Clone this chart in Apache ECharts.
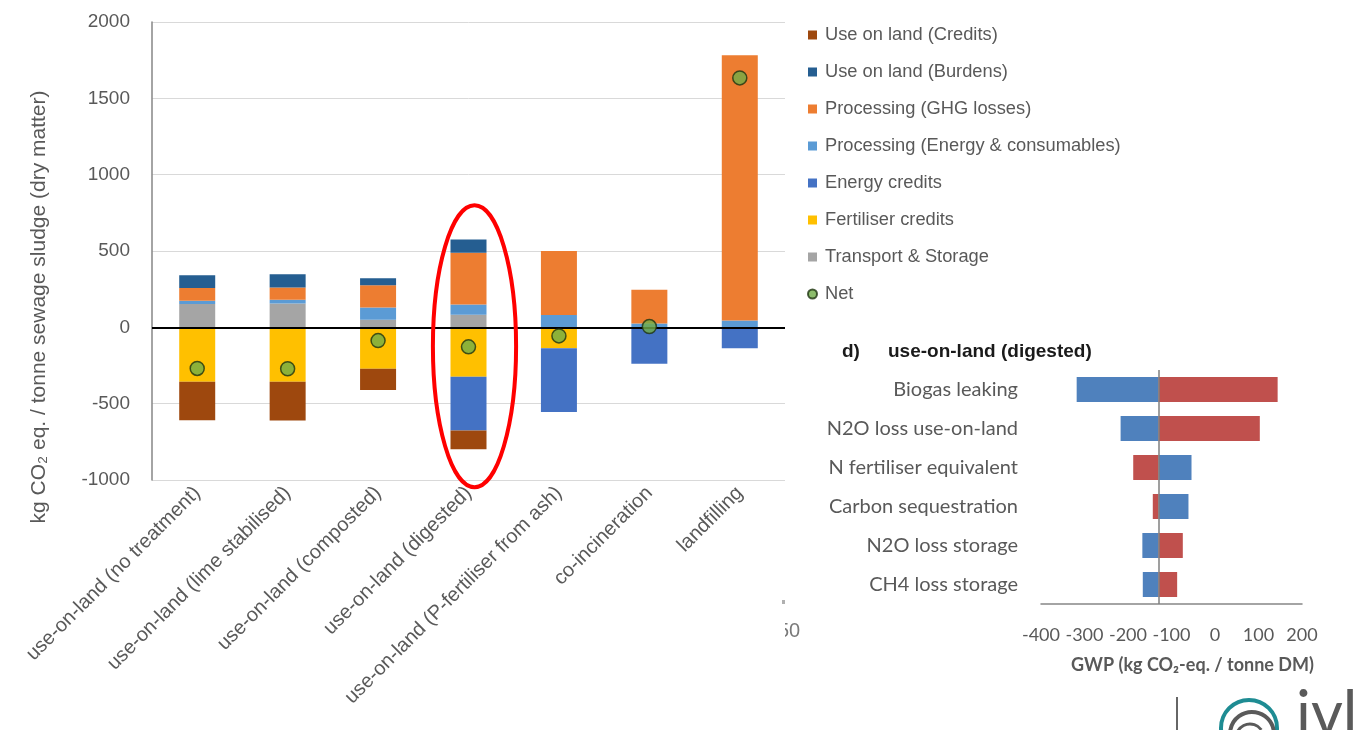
<!DOCTYPE html>
<html>
<head>
<meta charset="utf-8">
<script src="https://cdn.jsdelivr.net/npm/echarts@6/dist/echarts.min.js"></script>
<style>
html,body{margin:0;padding:0;background:#fff;}
#c{width:1369px;height:730px;}
</style>
</head>
<body>
<div id="c"></div>
<script>
// ---- main stacked chart data ----
const categories = ['use-on-land (no treatment)','use-on-land (lime stabilised)','use-on-land (composted)','use-on-land (digested)','use-on-land (P-fertiliser from ash)','co-incineration','landfilling'];
const transportStorage = [153, 156, 50, 82, 0, 0, 0];
const fertiliserCredits = [-356, -356, -271, -323, -137, 0, 0];
const processingEnergy = [21, 25, 80, 67, 81, 25, 44];
const energyCredits = [0, 0, 0, -352, -417, -239, -137];
const processingGHG = [83, 80, 146, 340, 419, 221, 1738];
const useOnLandBurdens = [84, 87, 46, 87, 0, 0, 0];
const useOnLandCredits = [-252, -254, -140, -124, 0, 0, 0];
const netValues = [-269, -271, -87, -128, -56, 5, 1634];
const legendOrder = ['Use on land (Credits)','Use on land (Burdens)','Processing (GHG losses)','Processing (Energy & consumables)','Energy credits','Fertiliser credits','Transport & Storage','Net'];

// ---- tornado (d) data ----
const tornadoCats = ['Biogas leaking','N2O loss use-on-land','N fertiliser equivalent','Carbon sequestration','N2O loss storage','CH4 loss storage'];
const tornadoBlue = [-318, -217, -54, -61, -167, -166];
const tornadoRed = [144, 103, -188, -143, -74, -87];
const tornadoBase = -130;

const chart = echarts.init(document.getElementById('c'));
const grayTxt = '#595959';
const arial = 'Liberation Sans, Arial, sans-serif';
const cal = 'Lato, Open Sans, sans-serif';

function barSeries(name, data, color){
  return {name, type:'bar', stack:'s', data, barWidth:36, xAxisIndex:0, yAxisIndex:0,
    itemStyle:{color}, emphasis:{disabled:true}};
}
function tornadoRender(params, api){
  const cat = api.value(0), v = api.value(1);
  const p0 = api.coord([tornadoBase, cat]);
  const p1 = api.coord([v, cat]);
  const h = api.size([0,1])[1]*0.64;
  return {type:'rect', shape:{x:Math.min(p0[0],p1[0]), y:p0[1]-h/2, width:Math.abs(p1[0]-p0[0]), height:h}, style:api.style()};
}

const series = [
  Object.assign(barSeries('Transport & Storage', transportStorage, '#A5A5A5'), {
    markLine:{silent:true, symbol:'none', label:{show:false}, lineStyle:{color:'#000', width:2, type:'solid'}, data:[{yAxis:0}]}
  }),
  barSeries('Fertiliser credits', fertiliserCredits, '#FFC000'),
  barSeries('Processing (Energy & consumables)', processingEnergy, '#5B9BD5'),
  barSeries('Energy credits', energyCredits, '#4472C4'),
  barSeries('Processing (GHG losses)', processingGHG, '#ED7D31'),
  barSeries('Use on land (Burdens)', useOnLandBurdens, '#255E91'),
  barSeries('Use on land (Credits)', useOnLandCredits, '#9E480E'),
  {name:'Net', type:'scatter', data:netValues, symbol:'circle', symbolSize:14, xAxisIndex:0, yAxisIndex:0, z:5,
    itemStyle:{color:'#70AD47', borderColor:'#1E3310', borderWidth:1.5}},
  {type:'custom', xAxisIndex:1, yAxisIndex:1, renderItem:tornadoRender, encode:{x:1,y:0},
    data:tornadoBlue.map((v,i)=>[i,v]), itemStyle:{color:'#4F81BD'},
    markLine:{silent:true, symbol:'none', label:{show:false}, lineStyle:{color:'#7F7F7F', width:1.5, type:'solid'}, data:[{xAxis:tornadoBase}]}},
  {type:'custom', xAxisIndex:1, yAxisIndex:1, renderItem:tornadoRender, encode:{x:1,y:0},
    data:tornadoRed.map((v,i)=>[i,v]), itemStyle:{color:'#C0504D'}}
];

const option = {
  animation:false,
  backgroundColor:'#fff',
  title:[
    {text:'d)', left:837, top:337, textStyle:{fontFamily:arial, fontWeight:'bold', fontSize:19, color:'#1a1a1a'}},
    {text:'use-on-land (digested)', left:883, top:337, textStyle:{fontFamily:arial, fontWeight:'bold', fontSize:19, color:'#1a1a1a'}}
  ],
  legend:{
    orient:'vertical', left:807, top:26, padding:0,
    itemWidth:9, itemHeight:9, itemGap:19,
    data:legendOrder.map(n=> n==='Net' ? {name:n, icon:'circle'} : {name:n, icon:'rect'}),
    textStyle:{fontFamily:arial, fontSize:18.3, lineHeight:18, color:grayTxt, padding:[0,0,0,3]}
  },
  grid:[
    {left:152, right:584, top:22, bottom:250},
    {left:1041, right:67, top:370, height:234}
  ],
  xAxis:[
    {type:'category', gridIndex:0, data:categories,
      axisLine:{show:false, onZero:false}, axisTick:{show:false},
      axisLabel:{rotate:45, interval:0, fontFamily:arial, fontSize:20, color:grayTxt, margin:10}},
    {type:'value', gridIndex:1, min:-400, max:200, interval:100,
      axisLine:{show:true, onZero:false, lineStyle:{color:'#868686', width:1.5}}, axisTick:{show:false},
      splitLine:{show:false},
      axisLabel:{fontFamily:cal, fontSize:18, color:grayTxt, margin:22},
      name:'GWP (kg CO₂-eq. / tonne DM)', nameLocation:'middle', nameGap:52,
      nameTextStyle:{fontFamily:cal, fontWeight:'bold', fontSize:18, color:grayTxt, padding:[0,0,0,42]}}
  ],
  yAxis:[
    {type:'value', gridIndex:0, min:-1000, max:2000, interval:500,
      axisLine:{show:true, lineStyle:{color:'#868686', width:1.5}}, axisTick:{show:false},
      splitLine:{lineStyle:{color:'#D9D9D9', width:1}},
      axisLabel:{fontFamily:arial, fontSize:19, color:grayTxt, margin:22, formatter:v=>String(v)},
      name:'kg CO₂ eq. / tonne sewage sludge (dry matter)', nameLocation:'middle', nameGap:102,
      nameTextStyle:{fontFamily:arial, fontSize:21, color:grayTxt, padding:[0,112,0,0]}},
    {type:'category', gridIndex:1, data:tornadoCats, inverse:true,
      axisLine:{show:false}, axisTick:{show:false}, splitLine:{show:false},
      axisLabel:{fontFamily:cal, fontSize:20, color:grayTxt, margin:23}}
  ],
  series
};
chart.setOption(option);

// annotation ellipse around the "digested" column, positioned through the axes
const cx = chart.convertToPixel({xAxisIndex:0}, categories[3]);
const yTop = chart.convertToPixel({yAxisIndex:0}, 799);
const yBot = chart.convertToPixel({yAxisIndex:0}, -1048);
const band = chart.convertToPixel({xAxisIndex:0}, categories[4]) - cx;
chart.setOption({
  graphic:[
    {type:'ellipse', shape:{cx:cx+6, cy:(yTop+yBot)/2, rx:band*0.46, ry:(yBot-yTop)/2}, style:{fill:'none', stroke:'#FF0000', lineWidth:4}, z:100},
    {type:'text', left:778, top:621, style:{text:'50', font:'20px Liberation Sans', fill:'#7a7a7a'}, z:50},
    {type:'rect', shape:{x:760, y:618, width:25, height:30}, style:{fill:'#fff'}, z:51},
    {type:'rect', shape:{x:782, y:600, width:3, height:4}, style:{fill:'#b0b0b0'}, z:52},
    {type:'line', shape:{x1:1177, y1:697, x2:1177, y2:730}, style:{stroke:'#333', lineWidth:1.5}},
    {type:'circle', shape:{cx:1249, cy:728, r:28}, style:{fill:'none', stroke:'#1E8C93', lineWidth:4}},
    {type:'arc', shape:{cx:1252, cy:734, r:22, startAngle:Math.PI*1.05, endAngle:Math.PI*1.95}, style:{fill:'none', stroke:'#5a5a5a', lineWidth:4}},
    {type:'arc', shape:{cx:1250, cy:738, r:14, startAngle:Math.PI*1.1, endAngle:Math.PI*1.8}, style:{fill:'none', stroke:'#5a5a5a', lineWidth:3}},
    {type:'text', left:1296, top:684, style:{text:'ivl', font:'62px Lato', fill:'#5a5a5a'}}
  ]
});
</script>
</body>
</html>
